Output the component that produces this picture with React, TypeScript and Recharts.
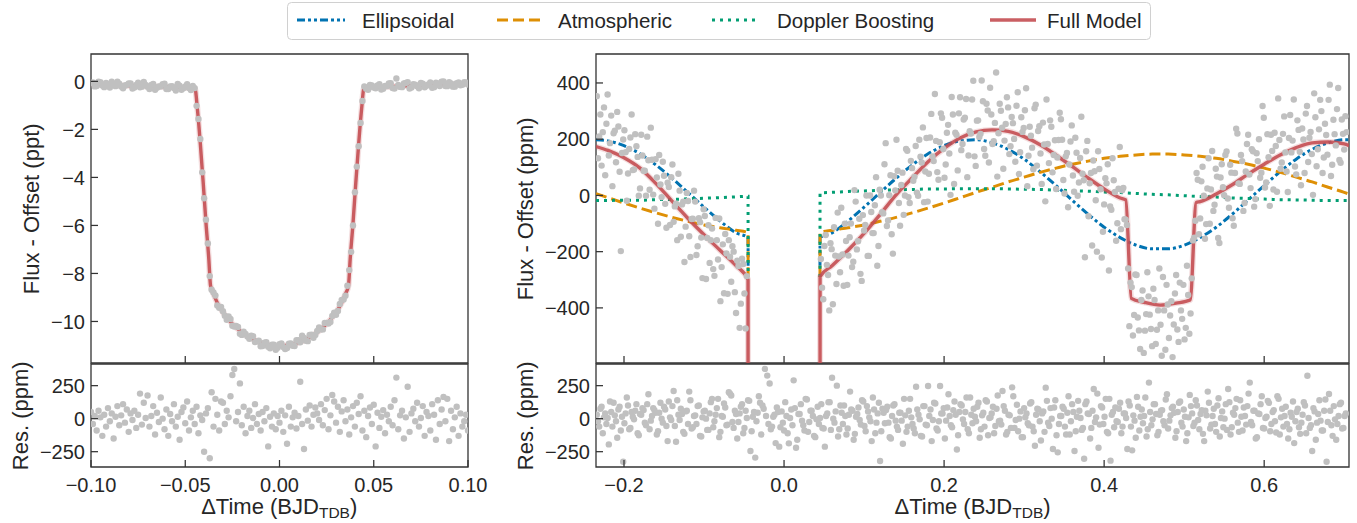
import React from "react";
import { ComposedChart, Line, Scatter, XAxis, YAxis, ReferenceArea } from "recharts";

// ---------- transit (left panels) ----------
const transitTimes = [-0.1, -0.08, -0.06, -0.0449, -0.0435, -0.042, -0.0405, -0.039, -0.0375, -0.0366, -0.035, -0.033, -0.03, -0.025, -0.02, -0.015, -0.01, -0.005, 0, 0.005, 0.01, 0.015, 0.02, 0.025, 0.03, 0.033, 0.035, 0.0366, 0.0375, 0.039, 0.0405, 0.042, 0.0435, 0.0449, 0.06, 0.08, 0.1];
const transitModel = [-0.12, -0.18, -0.23, -0.28, -1.2, -2.6, -4.2, -5.9, -7.4, -8.5, -8.85, -9.22, -9.62, -10.1, -10.45, -10.7, -10.88, -10.98, -11.02, -10.98, -10.88, -10.7, -10.45, -10.1, -9.62, -9.22, -8.85, -8.5, -7.4, -5.9, -4.2, -2.6, -1.2, -0.25, -0.21, -0.15, -0.1];

const transitObs: [number, number][] = [
  [-0.1,-0.07],[-0.098,-0.21],[-0.096,-0.01],[-0.094,-0.17],[-0.092,-0.07],[-0.09,-0.26],[-0.088,-0.13],[-0.086,-0.01],[-0.084,-0.21],[-0.082,-0.17],
  [-0.08,-0.09],[-0.078,-0.3],[-0.076,-0.15],[-0.074,-0.25],[-0.072,-0.02],[-0.07,-0.22],[-0.068,-0.15],[-0.066,-0.35],[-0.064,-0.21],[-0.062,-0.12],
  [-0.06,-0.32],[-0.058,-0.21],[-0.056,-0.28],[-0.054,-0.11],[-0.052,-0.35],[-0.05,-0.21],[-0.048,-0.28],[-0.046,-0.19],[-0.044,-1.02],[-0.042,-2.4],
  [-0.04,-4.87],[-0.038,-6.75],[-0.036,-8.68],[-0.034,-8.92],[-0.032,-9.43],[-0.03,-9.57],[-0.028,-9.93],[-0.026,-9.9],[-0.024,-10.21],[-0.022,-10.23],
  [-0.02,-10.56],[-0.018,-10.52],[-0.016,-10.72],[-0.014,-10.61],[-0.012,-10.83],[-0.01,-11.03],[-0.008,-10.88],[-0.006,-11.05],[-0.004,-10.97],[-0.002,-11.18],
  [0,-10.95],[0.002,-11.06],[0.004,-11.11],[0.006,-10.92],[0.008,-11.02],[0.01,-10.78],[0.012,-10.59],[0.014,-10.8],[0.016,-10.56],[0.018,-10.68],
  [0.02,-10.4],[0.022,-10.33],[0.024,-10.06],[0.026,-10.09],[0.028,-9.77],[0.03,-9.72],[0.032,-9.27],[0.034,-9.09],[0.036,-8.51],[0.038,-7.1],
  [0.04,-4.62],[0.042,-2.7],[0.044,-0.82],[0.046,-0.31],[0.048,-0.15],[0.05,-0.26],[0.052,-0.17],[0.054,-0.34],[0.056,-0.19],[0.058,-0.09],
  [0.06,-0.28],[0.062,0.12],[0.064,-0.23],[0.066,-0.09],[0.068,-0.03],[0.07,-0.26],[0.072,-0.14],[0.074,-0.29],[0.076,-0.1],[0.078,-0.18],
  [0.08,-0.04],[0.082,-0.24],[0.084,-0.09],[0.086,-0.01],[0.088,-0.19],[0.09,-0.03],[0.092,-0.22],[0.094,-0.08],[0.096,-0.16],[0.098,-0.03],[0.1,-0.13],
  [-0.099,-0.05],[-0.097,-0.19],[-0.095,-0.03],[-0.093,-0.24],[-0.091,-0.12],[-0.089,-0.01],[-0.087,-0.2],[-0.085,-0.1],[-0.083,-0.29],[-0.081,-0.15],
  [-0.079,-0.09],[-0.077,-0.26],[-0.075,-0.06],[-0.073,-0.22],[-0.071,-0.15],[-0.069,-0.32],[-0.067,-0.11],[-0.065,-0.27],[-0.063,-0.21],[-0.061,-0.1],
  [-0.059,-0.32],[-0.057,-0.2],[-0.055,-0.38],[-0.053,-0.18],[-0.051,-0.29],[-0.049,-0.12],[-0.047,-0.36],[-0.045,-0.28],[-0.043,-1.57],[-0.041,-3.79],
  [-0.039,-5.76],[-0.037,-8.11],[-0.035,-8.79],[-0.033,-9.33],[-0.031,-9.4],[-0.029,-9.76],[-0.027,-9.79],[-0.025,-10.18],[-0.023,-10.19],[-0.021,-10.51],
  [-0.019,-10.43],[-0.017,-10.63],[-0.015,-10.59],[-0.013,-10.86],[-0.011,-10.8],[-0.009,-11.02],[-0.007,-10.86],[-0.005,-11.12],[-0.003,-10.97],[-0.001,-11.1],
  [0.001,-10.92],[0.003,-11.15],[0.005,-10.93],[0.007,-11.01],[0.009,-10.78],[0.011,-10.87],[0.013,-10.69],[0.015,-10.82],[0.017,-10.55],[0.019,-10.56],
  [0.021,-10.25],[0.023,-10.33],[0.025,-10.06],[0.027,-10.02],[0.029,-9.63],[0.031,-9.56],[0.033,-9.1],[0.035,-8.93],[0.037,-7.86],[0.039,-6.0],
  [0.041,-3.55],[0.043,-1.73],[0.045,-0.21],[0.047,-0.35],[0.049,-0.17],[0.051,-0.29],[0.053,-0.12],[0.055,-0.31],[0.057,-0.2],[0.059,-0.08],
  [0.061,-0.3],[0.063,-0.15],[0.065,-0.24],[0.067,-0.07],[0.069,-0.3],[0.071,-0.12],[0.073,-0.2],[0.075,-0.07],[0.077,-0.25],[0.079,-0.13],
  [0.081,-0.27],[0.083,-0.06],[0.085,-0.19],[0.087,0.0],[0.089,-0.2],[0.091,-0.09],[0.093,-0.22],[0.095,-0.04],[0.097,-0.14],[0.099,-0.05],
];

const transitRes: [number, number][] = [
  [-0.1,50],[-0.099,-40],[-0.098,20],[-0.097,-90],[-0.096,60],[-0.095,10],[-0.094,-130],[-0.093,30],[-0.092,-60],[-0.091,80],[-0.09,-20],[-0.089,40],[-0.088,-150],[-0.087,15],[-0.086,95],[-0.085,-50],[-0.084,25],[-0.083,110],[-0.082,-30],[-0.081,70],
  [-0.08,-100],[-0.079,40],[-0.078,-10],[-0.077,60],[-0.076,-70],[-0.075,30],[-0.074,190],[-0.073,-45],[-0.072,120],[-0.071,5],[-0.07,175],[-0.069,-60],[-0.068,20],[-0.067,95],[-0.066,-120],[-0.065,45],[-0.064,-25],[-0.063,160],[-0.062,0],[-0.061,-80],
  [-0.06,70],[-0.059,-130],[-0.058,35],[-0.057,-20],[-0.056,110],[-0.055,-60],[-0.054,15],[-0.053,-160],[-0.052,50],[-0.051,85],[-0.05,-35],[-0.049,130],[-0.048,-90],[-0.047,10],[-0.046,60],[-0.045,-40],[-0.044,90],[-0.043,-110],[-0.042,25],[-0.041,-10],
  [-0.04,-250],[-0.039,40],[-0.038,80],[-0.037,-300],[-0.036,200],[-0.035,-60],[-0.034,150],[-0.033,30],[-0.032,-90],[-0.031,130],[-0.03,120],[-0.029,-40],[-0.028,60],[-0.027,10],[-0.026,170],[-0.025,331],[-0.024,376],[-0.023,-20],[-0.022,50],[-0.021,267],
  [-0.02,-50],[-0.019,90],[-0.018,-110],[-0.017,20],[-0.016,60],[-0.015,-70],[-0.014,5],[-0.013,110],[-0.012,-40],[-0.011,35],[-0.01,-90],[-0.009,50],[-0.008,-20],[-0.007,80],[-0.006,-210],[-0.005,15],[-0.004,-60],[-0.003,40],[-0.002,-80],[-0.001,20],
  [0,-30],[0.001,60],[0.002,-100],[0.003,25],[0.004,-190],[0.005,90],[0.006,-60],[0.007,10],[0.008,45],[0.009,-75],[0.01,20],[0.011,280],[0.012,-40],[0.013,-230],[0.014,70],[0.015,-15],[0.016,100],[0.017,-60],[0.018,30],[0.019,85],
  [0.02,40],[0.021,-10],[0.022,110],[0.023,-50],[0.024,65],[0.025,150],[0.026,-80],[0.027,25],[0.028,180],[0.029,130],[0.03,-30],[0.031,90],[0.032,-100],[0.033,55],[0.034,140],[0.035,-20],[0.036,70],[0.037,-120],[0.038,10],[0.039,95],
  [0.04,-60],[0.041,120],[0.042,35],[0.043,170],[0.044,-90],[0.045,60],[0.046,-140],[0.047,20],[0.048,85],[0.049,-40],[0.05,105],[0.051,-210],[0.052,45],[0.053,-70],[0.054,15],[0.055,65],[0.056,-110],[0.057,30],[0.058,-20],[0.059,90],
  [0.06,-50],[0.061,140],[0.062,311],[0.063,-80],[0.064,25],[0.065,60],[0.066,-150],[0.067,10],[0.068,242],[0.069,-100],[0.07,40],[0.071,75],[0.072,-20],[0.073,120],[0.074,-60],[0.075,5],[0.076,95],[0.077,-130],[0.078,50],[0.079,20],
  [0.08,-90],[0.081,110],[0.082,30],[0.083,-160],[0.084,140],[0.085,-40],[0.086,70],[0.087,165],[0.088,-20],[0.089,150],[0.09,-170],[0.091,60],[0.092,-80],[0.093,10],[0.094,90],[0.095,-130],[0.096,40],[0.097,-60],[0.098,-20],[0.099,30],[0.1,-90],
];

// ---------- phase curve (right panels) ----------
const compTimesPre = [-0.235, -0.22, -0.2, -0.18, -0.16, -0.14, -0.12, -0.1, -0.08, -0.06, -0.045, -0.0449];
const ellPre = [198, 194, 177, 148, 108, 61, 10, -42, -91, -133, -150, -250];
const atmPre = [6, -8, -27, -45, -62, -78, -92, -105, -115, -124, -132, -290];
const dopPre = [-18, -18, -17, -17, -15, -14, -12, -10, -8, -5, -3, -290];
const fullPre = [174, 160, 134, 97, 42, -20, -82, -140, -195, -250, -300, -2000];

const compTimesPost = [0.0449, 0.045, 0.06, 0.08, 0.1, 0.12, 0.14, 0.16, 0.18, 0.2, 0.22, 0.24, 0.26, 0.28, 0.3, 0.32, 0.34, 0.36, 0.38, 0.4, 0.42, 0.44, 0.46, 0.48, 0.5, 0.52, 0.54, 0.56, 0.58, 0.6, 0.62, 0.64, 0.66, 0.68, 0.7, 0.706];
const ellPost = [-250, -150, -133, -91, -42, 10, 61, 108, 148, 177, 194, 198, 187, 164, 129, 84, 35, -17, -67, -113, -150, -177, -190, -190, -177, -150, -113, -67, -16, 35, 85, 129, 164, 187, 198, 198];
const atmPost = [-290, -132, -124, -115, -105, -92, -78, -62, -45, -27, -8, 11, 29, 48, 65, 82, 97, 111, 122, 132, 139, 144, 147, 147, 144, 139, 132, 122, 111, 97, 82, 65, 48, 29, 11, 5];
const dopPost = [-290, 9, 11, 14, 16, 18, 20, 21, 23, 23, 24, 24, 24, 23, 22, 21, 19, 17, 15, 12, 10, 7, 4, 2, -1, -4, -6, -9, -11, -13, -15, -16, -17, -18, -18, -18];

const fullTimesPost = [0.0449, 0.045, 0.06, 0.08, 0.1, 0.12, 0.14, 0.16, 0.18, 0.2, 0.22, 0.24, 0.26, 0.28, 0.3, 0.32, 0.34, 0.36, 0.38, 0.4, 0.42, 0.427, 0.434, 0.45, 0.47, 0.49, 0.5075, 0.515, 0.52, 0.54, 0.56, 0.58, 0.6, 0.62, 0.64, 0.66, 0.68, 0.7, 0.706];
const fullPost = [-2000, -289, -250, -195, -135, -68, 2, 62, 120, 167, 204, 226, 233, 228, 209, 180, 143, 103, 62, 23, -9, -16, -366, -380, -390, -383, -372, -25, -22, 5, 38, 76, 111, 144, 170, 187, 190, 183, 177];

const phaseObs: [number, number][] = [
  [-0.234,353],[-0.231,210],[-0.228,106],[-0.225,313],[-0.222,255],[-0.219,142],[-0.216,284],[-0.213,221],[-0.21,118],[-0.207,245],[-0.204,-198],[-0.201,199],[-0.198,154],[-0.195,78],[-0.192,206],[-0.189,90],[-0.186,218],[-0.183,137],[-0.18,25],[-0.177,142],
  [-0.174,88],[-0.171,209],[-0.168,20],[-0.165,127],[-0.162,-47],[-0.159,64],[-0.156,144],[-0.153,-6],[-0.15,70],[-0.147,-115],[-0.144,30],[-0.141,65],[-0.138,-94],[-0.135,-29],[-0.132,77],[-0.129,-147],[-0.126,-22],[-0.123,-111],[-0.12,-20],[-0.117,-219],
  [-0.114,-83],[-0.111,-22],[-0.108,-181],[-0.105,-95],[-0.102,-294],[-0.099,-73],[-0.096,-151],[-0.093,-240],[-0.09,-118],[-0.087,-286],[-0.084,-159],[-0.081,-82],[-0.078,-255],[-0.075,-348],[-0.072,-206],[-0.069,-159],[-0.066,-307],[-0.063,-200],[-0.06,-418],[-0.057,-251],
  [-0.054,-385],[-0.051,-244],[-0.048,-473],
  [0.046,-226],[0.049,-369],[0.052,-141],[0.055,-283],[0.058,-170],[0.061,-387],[0.064,-214],[0.067,-61],[0.07,-273],[0.073,-210],[0.076,-101],[0.079,-318],[0.082,-149],[0.085,-255],[0.088,19],[0.091,-192],[0.094,-83],[0.097,-304],[0.1,-125],[0.103,0],
  [0.106,-215],[0.109,-59],[0.112,-134],[0.115,65],[0.118,-180],[0.121,0],[0.124,-64],[0.127,186],[0.13,-89],[0.133,72],[0.136,-207],[0.139,18],[0.142,88],[0.145,-108],[0.148,81],[0.151,0],[0.154,159],[0.157,-27],[0.16,97],[0.163,66],
  [0.166,10],[0.169,198],[0.172,117],[0.175,-24],[0.178,204],[0.181,77],[0.184,290],[0.187,122],[0.19,194],[0.193,56],[0.196,292],[0.199,165],[0.202,110],[0.205,251],[0.208,2],[0.211,288],[0.214,223],[0.217,89],[0.22,349],[0.223,183],
  [0.226,276],[0.229,65],[0.232,228],[0.235,341],[0.238,139],[0.241,266],[0.244,208],[0.247,409],[0.25,165],[0.253,326],[0.256,117],[0.259,288],[0.262,193],[0.265,437],[0.268,221],[0.271,301],[0.274,95],[0.277,254],[0.28,313],[0.283,175],
  [0.286,257],[0.289,120],[0.292,367],[0.295,154],[0.298,226],[0.301,303],[0.304,33],[0.307,244],[0.31,170],[0.313,310],[0.316,106],[0.319,246],[0.322,41],[0.325,181],[0.328,341],[0.331,115],[0.334,244],[0.337,144],[0.34,23],[0.343,197],
  [0.346,271],[0.349,55],[0.352,139],[0.355,-42],[0.358,192],[0.361,71],[0.364,205],[0.367,-1],[0.37,133],[0.373,77],[0.376,-220],[0.379,194],[0.382,43],[0.385,-178],[0.388,86],[0.391,-200],[0.394,94],[0.397,-221],[0.4,-32],[0.403,43],
  [0.406,-267],[0.409,-51],[0.412,54],[0.415,-161],[0.418,24],[0.421,-120],[0.424,27],[0.427,-86],[0.43,-260],[0.433,-310],[0.436,-498],[0.439,-281],[0.442,-434],[0.445,-546],[0.448,-338],[0.451,-481],[0.454,-273],[0.457,-424],[0.46,-536],[0.463,-372],
  [0.466,-478],[0.469,-260],[0.472,-570],[0.475,-409],[0.478,-318],[0.481,-507],[0.484,-376],[0.487,-459],[0.49,-283],[0.493,-521],[0.496,-409],[0.499,-318],[0.502,-471],[0.505,-354],[0.508,-420],[0.511,-160],[0.514,-90],[0.517,56],[0.52,-82],[0.523,102],
  [0.526,-154],[0.529,25],[0.532,-101],[0.535,158],[0.538,-33],[0.541,67],[0.544,-169],[0.547,111],[0.55,1],[0.553,156],[0.556,-44],[0.559,81],[0.562,-108],[0.565,237],[0.568,43],[0.571,144],[0.574,-55],[0.577,85],[0.58,216],[0.583,26],
  [0.586,157],[0.589,-13],[0.592,122],[0.595,63],[0.598,318],[0.601,28],[0.604,218],[0.607,-37],[0.61,158],[0.613,223],[0.616,13],[0.619,197],[0.622,117],[0.625,281],[0.628,85],[0.631,204],[0.634,153],[0.637,341],[0.64,75],[0.643,233],
  [0.646,36],[0.649,199],[0.652,291],[0.655,119],[0.658,226],[0.661,2],[0.664,278],[0.667,164],[0.67,340],[0.673,80],[0.676,255],[0.679,145],[0.682,394],[0.685,109],[0.688,218],[0.691,307],[0.694,126],[0.697,270],[0.7,163],[0.703,225],
];

const phaseObs2: [number, number][] = [
  [-0.2325,132],[-0.2295,288],[-0.2265,225],[-0.2235,72],[-0.2205,359],[-0.2175,186],[-0.2145,33],[-0.2115,230],[-0.2085,297],[-0.2055,84],[-0.2025,151],[-0.1995,232],[-0.1965,-19],[-0.1935,165],[-0.1905,288],[-0.1875,92],[-0.1845,175],[-0.1815,-1],[-0.1785,216],[-0.1755,88],
  [-0.1725,-1],[-0.1695,125],[-0.1665,241],[-0.1635,3],[-0.1605,129],[-0.1575,-101],[-0.1545,39],[-0.1515,120],[-0.1485,-30],[-0.1455,45],[-0.1425,-105],[-0.1395,110],[-0.1365,-39],[-0.1335,-159],[-0.1305,17],[-0.1275,-32],[-0.1245,-237],[-0.1215,9],[-0.1185,-145],[-0.1155,-84],
  [-0.1125,17],[-0.1095,-212],[-0.1065,-81],[-0.1035,-150],[-0.1005,-49],[-0.0975,-297],[-0.0945,-106],[-0.0915,-159],[-0.0885,-262],[-0.0855,-80],[-0.0825,-228],[-0.0795,-376],[-0.0765,-174],[-0.0735,-137],[-0.0705,-350],[-0.0675,-218],[-0.0645,-181],[-0.0615,-344],[-0.0585,-232],[-0.0555,-471],
  [-0.0525,-225],[-0.0495,-349],[-0.0465,-287],
  [0.0475,-328],[0.0505,-180],[0.0535,-247],[0.0565,-409],[0.0595,-191],[0.0625,-113],[0.0655,-315],[0.0685,-217],[0.0715,-44],[0.0745,-321],[0.0775,-162],[0.0805,-214],[0.0835,-100],[0.0865,-236],[0.0895,-22],[0.0925,-163],[0.0955,-279],[0.0985,-70],[0.1015,-105],[0.1045,-215],
  [0.1075,0],[0.1105,-134],[0.1135,-35],[0.1165,-250],[0.1195,20],[0.1225,-60],[0.1255,111],[0.1285,-109],[0.1315,1],[0.1345,-138],[0.1375,68],[0.1405,198],[0.1435,-27],[0.1465,37],[0.1495,-69],[0.1525,165],[0.1555,-6],[0.1585,123],[0.1615,52],[0.1645,176],
  [0.1675,-1],[0.1705,138],[0.1735,242],[0.1765,85],[0.1795,-22],[0.1825,206],[0.1855,139],[0.1885,361],[0.1915,83],[0.1945,189],[0.1975,276],[0.2005,63],[0.2035,223],[0.2065,149],[0.2095,350],[0.2125,41],[0.2155,216],[0.2185,292],[0.2215,161],[0.2245,270],
  [0.2275,343],[0.2305,142],[0.2335,220],[0.2365,408],[0.2395,105],[0.2425,267],[0.2455,219],[0.2485,335],[0.2515,141],[0.2545,302],[0.2575,383],[0.2605,183],[0.2635,258],[0.2665,67],[0.2695,326],[0.2725,241],[0.2755,195],[0.2785,349],[0.2815,147],[0.2845,279],
  [0.2875,201],[0.2905,319],[0.2935,76],[0.2965,278],[0.2995,240],[0.3025,381],[0.3055,141],[0.3085,212],[0.3115,93],[0.3145,323],[0.3175,229],[0.3205,149],[0.3235,259],[0.3265,-21],[0.3295,183],[0.3325,267],[0.3355,82],[0.3385,196],[0.3415,135],[0.3445,294],
  [0.3475,198],[0.3505,7],[0.3535,151],[0.3565,110],[0.3595,249],[0.3625,13],[0.3655,152],[0.3685,46],[0.3715,280],[0.3745,54],[0.3775,157],[0.3805,-74],[0.3835,80],[0.3865,124],[0.3895,-17],[0.3925,157],[0.3955,22],[0.3985,-129],[0.4015,61],[0.4045,111],
  [0.4075,-39],[0.4105,132],[0.4135,12],[0.4165,-99],[0.4195,172],[0.4225,18],[0.4255,-85],[0.4285,-105],[0.4315,-465],[0.4345,-326],[0.4375,-425],[0.4405,-283],[0.4435,-480],[0.4465,-372],[0.4495,-560],[0.4525,-422],[0.4555,-359],[0.4585,-475],[0.4615,-332],[0.4645,-528],
  [0.4675,-409],[0.4705,-460],[0.4735,-290],[0.4765,-549],[0.4795,-388],[0.4825,-427],[0.4855,-575],[0.4885,-349],[0.4915,-477],[0.4945,-310],[0.4975,-439],[0.5005,-512],[0.5035,-250],[0.5065,-492],[0.5095,-295],[0.5125,-150],[0.5155,80],[0.5185,-138],[0.5215,50],[0.5245,-1],
  [0.5275,-102],[0.5305,132],[0.5335,21],[0.5365,-55],[0.5395,95],[0.5425,-151],[0.5455,64],[0.5485,29],[0.5515,144],[0.5545,-11],[0.5575,109],[0.5605,-81],[0.5635,80],[0.5665,220],[0.5695,41],[0.5725,122],[0.5755,-27],[0.5785,183],[0.5815,74],[0.5845,164],
  [0.5875,-40],[0.5905,150],[0.5935,200],[0.5965,81],[0.5995,276],[0.6025,46],[0.6055,136],[0.6085,216],[0.6115,21],[0.6145,176],[0.6175,345],[0.6205,95],[0.6235,219],[0.6265,153],[0.6295,12],[0.6325,286],[0.6355,195],[0.6385,103],[0.6415,267],[0.6445,155],
  [0.6475,238],[0.6505,80],[0.6535,318],[0.6565,205],[0.6595,147],[0.6625,363],[0.6655,104],[0.6685,235],[0.6715,300],[0.6745,135],[0.6775,215],[0.6805,340],[0.6835,69],[0.6865,269],[0.6895,178],[0.6925,382],[0.6955,116],[0.6985,219],[0.7015,282],
];

const phaseRes: [number, number][] = [
  [-0.234,30],[-0.231,-60],[-0.228,90],[-0.225,10],[-0.222,-40],[-0.219,-195],[-0.216,50],[-0.213,120],[-0.21,-20],[-0.207,70],[-0.204,-90],[-0.201,-326],[-0.198,40],[-0.195,100],[-0.192,-70],[-0.189,15],[-0.186,60],[-0.183,-110],[-0.18,35],[-0.177,80],
  [-0.174,-30],[-0.171,110],[-0.168,-80],[-0.165,20],[-0.162,65],[-0.159,-120],[-0.156,45],[-0.153,0],[-0.15,90],[-0.147,-55],[-0.144,130],[-0.141,-10],[-0.138,210],[-0.135,-175],[-0.132,30],[-0.129,75],[-0.126,-100],[-0.123,55],[-0.12,-40],[-0.117,140],
  [-0.114,-65],[-0.111,25],[-0.108,95],[-0.105,-130],[-0.102,10],[-0.099,60],[-0.096,-85],[-0.093,40],[-0.09,150],[-0.087,-20],[-0.084,80],[-0.081,-140],[-0.078,20],[-0.075,115],[-0.072,-50],[-0.069,200],[-0.066,175],[-0.063,-70],[-0.06,35],[-0.057,-25],
  [-0.054,90],[-0.051,-110],[-0.048,60],[-0.045,140],[-0.042,-245],[-0.039,15],[-0.036,-295],[-0.033,45],[-0.03,120],[-0.027,100],[-0.024,377],[-0.021,326],[-0.018,266],[-0.015,-60],[-0.012,30],[-0.009,85],[-0.006,-212],[-0.003,55],[0,-90],[0.003,20],
  [0.006,-187],[0.009,70],[0.012,290],[0.015,-220],[0.018,35],[0.021,110],[0.024,-50],[0.027,150],[0.03,-100],[0.033,60],[0.036,20],[0.039,-140],[0.042,90],[0.045,5],[0.048,-70],[0.051,-212],[0.054,40],[0.057,125],[0.06,310],[0.063,-30],
  [0.066,250],[0.069,-80],[0.072,45],[0.075,100],[0.078,-120],[0.081,30],[0.084,70],[0.087,-160],[0.09,15],[0.093,85],[0.096,-45],[0.099,130],[0.102,-95],[0.105,55],[0.108,-20],[0.111,160],[0.114,-110],[0.117,40],[0.12,-320],[0.123,75],
  [0.126,-35],[0.129,90],[0.132,-140],[0.135,20],[0.138,110],[0.141,-60],[0.144,45],[0.147,-15],[0.15,150],[0.153,-100],[0.156,60],[0.159,10],[0.162,-75],[0.165,242],[0.168,30],[0.171,-130],[0.174,95],[0.177,-45],[0.18,247],[0.183,70],
  [0.186,-10],[0.189,115],[0.192,-90],[0.195,247],[0.198,40],[0.201,-150],[0.204,85],[0.207,20],[0.21,-65],[0.213,130],[0.216,-233],[0.219,50],[0.222,100],[0.225,-40],[0.228,160],[0.231,-110],[0.234,30],[0.237,75],[0.24,-20],[0.243,120],
  [0.246,-80],[0.249,45],[0.252,140],[0.255,-125],[0.258,10],[0.261,90],[0.264,-55],[0.267,175],[0.27,-15],[0.273,210],[0.276,60],[0.279,-100],[0.282,25],[0.285,237],[0.288,-70],[0.291,105],[0.294,0],[0.297,-140],[0.3,80],[0.303,40],
  [0.306,-50],[0.309,125],[0.312,-95],[0.315,30],[0.318,70],[0.321,-165],[0.324,55],[0.327,235],[0.33,-30],[0.333,80],[0.336,-230],[0.339,140],[0.342,-255],[0.345,20],[0.348,90],[0.351,-60],[0.354,45],[0.357,-120],[0.36,110],[0.363,-245],
  [0.366,15],[0.369,60],[0.372,-85],[0.375,-303],[0.378,130],[0.381,35],[0.384,-70],[0.387,225],[0.39,10],[0.393,-220],[0.396,95],[0.399,-40],[0.402,150],[0.405,-110],[0.408,-318],[0.411,50],[0.414,85],[0.417,-25],[0.42,120],[0.423,-60],
  [0.426,40],[0.429,-230],[0.432,100],[0.435,-240],[0.438,-15],[0.441,165],[0.444,-90],[0.447,70],[0.45,20],[0.453,-135],[0.456,273],[0.459,-50],[0.462,110],[0.465,35],[0.468,-100],[0.471,60],[0.474,-20],[0.477,145],[0.48,-75],[0.483,25],
  [0.486,90],[0.489,-145],[0.492,50],[0.495,130],[0.498,-60],[0.501,15],[0.504,-110],[0.507,180],[0.51,40],[0.513,-30],[0.516,100],[0.519,-80],[0.522,65],[0.525,-170],[0.528,25],[0.531,120],[0.534,-45],[0.537,75],[0.54,-100],[0.543,155],
  [0.546,5],[0.549,-65],[0.552,110],[0.555,225],[0.558,-120],[0.561,45],[0.564,80],[0.567,-30],[0.57,140],[0.573,-90],[0.576,20],[0.579,95],[0.582,273],[0.585,-50],[0.588,60],[0.591,-140],[0.594,35],[0.597,170],[0.6,-75],[0.603,15],
  [0.606,120],[0.609,-40],[0.612,65],[0.615,-105],[0.618,150],[0.621,10],[0.624,-60],[0.627,90],[0.63,-150],[0.633,45],[0.636,130],[0.639,-20],[0.642,75],[0.645,-115],[0.648,30],[0.651,100],[0.654,325],[0.657,-70],[0.66,-245],[0.663,55],
  [0.666,-30],[0.669,140],[0.672,-90],[0.675,60],[0.678,-326],[0.681,187],[0.684,-50],[0.687,95],[0.69,-160],[0.693,20],[0.696,120],[0.699,-70],[0.702,40],
];

const phaseRes2: [number, number][] = [
  [-0.2325,-20],[-0.2295,75],[-0.2265,-110],[-0.2235,40],[-0.2205,5],[-0.2175,130],[-0.2145,-60],[-0.2115,25],[-0.2085,-145],[-0.2055,90],[-0.2025,15],[-0.1995,-35],[-0.1965,160],[-0.1935,-80],[-0.1905,50],[-0.1875,-5],[-0.1845,110],[-0.1815,-125],[-0.1785,30],[-0.1755,65],[-0.1725,-50],[-0.1695,185],[-0.1665,-15],[-0.1635,80],
  [-0.1605,45],[-0.1575,-95],[-0.1545,120],[-0.1515,-30],[-0.1485,70],[-0.1455,-170],[-0.1425,10],[-0.1395,95],[-0.1365,-55],[-0.1335,140],[-0.1305,-10],[-0.1275,35],[-0.1245,-115],[-0.1215,60],[-0.1185,205],[-0.1155,-75],[-0.1125,20],[-0.1095,-40],[-0.1065,100],[-0.1035,-135],[-0.1005,55],[-0.0975,0],[-0.0945,-85],[-0.0915,125],
  [-0.0885,-65],[-0.0855,30],[-0.0825,150],[-0.0795,-100],[-0.0765,15],[-0.0735,85],[-0.0705,-45],[-0.0675,190],[-0.0645,-25],[-0.0615,60],[-0.0585,-150],[-0.0555,40],[-0.0525,110],[-0.0495,-70],[-0.0465,5],[-0.0435,135],[-0.0405,-95],[-0.0375,50],[-0.0345,-20],[-0.0315,170],[-0.0285,-120],[-0.0255,75],[-0.0225,20],[-0.0195,-40],
  [-0.0165,-80],[-0.0135,15],[-0.0105,-185],[-0.0075,50],[-0.0045,-65],[-0.0015,-30],[0.0015,125],[0.0045,-110],[0.0075,5],[0.0105,-50],[0.0135,80],[0.0165,-160],[0.0195,35],[0.0225,-15],[0.0255,-90],[0.0285,145],[0.0315,-25],[0.0345,60],[0.0375,-130],[0.0405,-5],[0.0435,-40],[0.0465,110],[0.0495,-75],[0.0525,20],
  [0.0555,125],[0.0585,-85],[0.0615,0],[0.0645,55],[0.0675,-135],[0.0705,100],[0.0735,-40],[0.0765,20],[0.0795,-75],[0.0825,205],[0.0855,60],[0.0885,-115],[0.0915,35],[0.0945,-10],[0.0975,140],[0.1005,-55],[0.1035,95],[0.1065,10],[0.1095,-170],[0.1125,70],[0.1155,-30],[0.1185,120],[0.1215,-95],[0.1245,45],
  [0.1275,65],[0.1305,-30],[0.1335,-150],[0.1365,100],[0.1395,-15],[0.1425,-85],[0.1455,45],[0.1485,-190],[0.1515,25],[0.1545,-60],[0.1575,150],[0.1605,-40],[0.1635,-110],[0.1665,70],[0.1695,-5],[0.1725,-135],[0.1755,95],[0.1785,-50],[0.1815,20],[0.1845,-170],[0.1875,120],[0.1905,-75],[0.1935,-20],[0.1965,40],
  [0.1995,80],[0.2025,-15],[0.2055,185],[0.2085,-50],[0.2115,65],[0.2145,30],[0.2175,-125],[0.2205,110],[0.2235,-5],[0.2265,50],[0.2295,-80],[0.2325,160],[0.2355,-35],[0.2385,15],[0.2415,90],[0.2445,-145],[0.2475,25],[0.2505,-60],[0.2535,130],[0.2565,5],[0.2595,40],[0.2625,-110],[0.2655,75],[0.2685,-20],
  [0.2715,-45],[0.2745,95],[0.2775,-120],[0.2805,30],[0.2835,-70],[0.2865,170],[0.2895,-10],[0.2925,-95],[0.2955,55],[0.2985,-140],[0.3015,10],[0.3045,-35],[0.3075,115],[0.3105,-60],[0.3135,-205],[0.3165,75],[0.3195,-20],[0.3225,40],[0.3255,-100],[0.3285,135],[0.3315,-55],[0.3345,0],[0.3375,85],[0.3405,-125],
  [0.3435,-40],[0.3465,20],[0.3495,75],[0.3525,-120],[0.3555,170],[0.3585,-20],[0.3615,50],[0.3645,-95],[0.3675,135],[0.3705,5],[0.3735,-70],[0.3765,110],[0.3795,40],[0.3825,-150],[0.3855,60],[0.3885,-25],[0.3915,190],[0.3945,-45],[0.3975,85],[0.4005,15],[0.4035,-100],[0.4065,150],[0.4095,30],[0.4125,-65],
  [0.4155,-20],[0.4185,75],[0.4215,-110],[0.4245,40],[0.4275,5],[0.4305,130],[0.4335,-60],[0.4365,25],[0.4395,-145],[0.4425,90],[0.4455,15],[0.4485,-35],[0.4515,160],[0.4545,-80],[0.4575,50],[0.4605,-5],[0.4635,110],[0.4665,-125],[0.4695,30],[0.4725,65],[0.4755,-50],[0.4785,185],[0.4815,-15],[0.4845,80],
  [0.4875,45],[0.4905,-95],[0.4935,120],[0.4965,-30],[0.4995,70],[0.5025,-170],[0.5055,10],[0.5085,95],[0.5115,-55],[0.5145,140],[0.5175,-10],[0.5205,35],[0.5235,-115],[0.5265,60],[0.5295,205],[0.5325,-75],[0.5355,20],[0.5385,-40],[0.5415,100],[0.5445,-135],[0.5475,55],[0.5505,0],[0.5535,-85],[0.5565,125],
  [0.5595,-65],[0.5625,30],[0.5655,150],[0.5685,-100],[0.5715,15],[0.5745,85],[0.5775,-45],[0.5805,190],[0.5835,-25],[0.5865,60],[0.5895,-150],[0.5925,40],[0.5955,110],[0.5985,-70],[0.6015,5],[0.6045,135],[0.6075,-95],[0.6105,50],[0.6135,-20],[0.6165,170],[0.6195,-120],[0.6225,75],[0.6255,20],[0.6285,-40],
  [0.6315,-80],[0.6345,15],[0.6375,-185],[0.6405,50],[0.6435,-65],[0.6465,-30],[0.6495,125],[0.6525,-110],[0.6555,5],[0.6585,-50],[0.6615,80],[0.6645,-160],[0.6675,35],[0.6705,-15],[0.6735,-90],[0.6765,145],[0.6795,-25],[0.6825,60],[0.6855,-130],[0.6885,-5],[0.6915,-40],[0.6945,110],[0.6975,-75],[0.7005,20],
];

// ---------- styles ----------
const FONT = '"Liberation Sans", Arial, Helvetica, sans-serif';
const INK = "#262626";
const FRAME = "#333333";
const DOT = "#c0c0c0";
const BLUE = "#0173b2";
const ORANGE = "#de8f05";
const GREEN = "#029e73";
const RED = "#c44e52";

const ML = 70;
const MT = 4;
const MB = 40;

const zip = (xs: number[], ys: number[]) => xs.map((x, i) => ({ x, y: ys[i] }));
const pts = (pairs: [number, number][]) => pairs.map(([x, y]) => ({ x, y }));
const minus = (s: string) => s.replace("-", "\u2212");

const dotShape = (props: any) => <circle cx={props.cx} cy={props.cy} r={3.2} fill={DOT} />;

type PanelProps = {
  left: number;
  top: number;
  w: number;
  h: number;
  mr: number;
  xDomain: [number, number];
  yDomain: [number, number];
  xTicks: number[];
  yTicks: number[];
  xFmt: (v: number) => string;
  xLabels: boolean;
  children?: React.ReactNode;
};

function Panel(p: PanelProps) {
  const base = MT + p.h;
  const xTick = (t: any) => (
    <g>
      <line x1={t.x} x2={t.x} y1={base} y2={base - 7} stroke={FRAME} strokeWidth={1.25} />
      {p.xLabels && (
        <text x={t.x} y={base + 25} textAnchor="middle" fontSize={20} fill={INK} fontFamily={FONT}>
          {minus(p.xFmt(t.payload.value))}
        </text>
      )}
    </g>
  );
  const yTick = (t: any) => (
    <g>
      <line x1={ML} x2={ML + 7} y1={t.y} y2={t.y} stroke={FRAME} strokeWidth={1.25} />
      <text x={ML - 6} y={t.y} dy="0.36em" textAnchor="end" fontSize={20} fill={INK} fontFamily={FONT}>
        {minus(String(t.payload.value))}
      </text>
    </g>
  );
  return (
    <div style={{ position: "absolute", left: p.left - ML, top: p.top - MT }}>
      <ComposedChart width={ML + p.w + p.mr} height={MT + p.h + MB} margin={{ top: MT, right: p.mr, bottom: 0, left: 0 }}>
        <XAxis type="number" dataKey="x" domain={p.xDomain} ticks={p.xTicks} interval={0} allowDataOverflow axisLine={false} tickLine={false} tick={xTick} height={MB} />
        <YAxis type="number" dataKey="y" domain={p.yDomain} ticks={p.yTicks} interval={0} allowDataOverflow axisLine={false} tickLine={false} tick={yTick} width={ML} />
        {p.children}
        <ReferenceArea x1={p.xDomain[0]} x2={p.xDomain[1]} y1={p.yDomain[0]} y2={p.yDomain[1]} fill="none" stroke={FRAME} strokeWidth={1.3} ifOverflow="visible" />
      </ComposedChart>
    </div>
  );
}

export default function App() {
  const transitLine = zip(transitTimes, transitModel);
  const ellA = zip(compTimesPre, ellPre);
  const atmA = zip(compTimesPre, atmPre);
  const dopA = zip(compTimesPre, dopPre);
  const fullA = zip(compTimesPre, fullPre);
  const ellB = zip(compTimesPost, ellPost);
  const atmB = zip(compTimesPost, atmPost);
  const dopB = zip(compTimesPost, dopPost);
  const fullB = zip(fullTimesPost, fullPost);

  const comp = (data: { x: number; y: number }[], color: string, dash: string, key: string) => (
    <Line key={key} data={data} dataKey="y" type="monotone" stroke={color} strokeWidth={3} strokeDasharray={dash} dot={false} activeDot={false} isAnimationActive={false} />
  );
  const full = (data: { x: number; y: number }[], key: string) => [
    <Line key={key + "h"} data={data} dataKey="y" type="monotone" stroke={RED} strokeWidth={6} strokeOpacity={0.18} dot={false} activeDot={false} isAnimationActive={false} />,
    <Line key={key} data={data} dataKey="y" type="monotone" stroke={RED} strokeWidth={3.4} strokeOpacity={0.9} dot={false} activeDot={false} isAnimationActive={false} />,
  ];

  return (
    <div style={{ position: "absolute", left: 0, top: 0, width: 1357, height: 523, overflow: "hidden", background: "#fff", fontFamily: FONT }}>
      <Panel left={90.7} top={54.3} w={377} h={309} mr={30} xDomain={[-0.1, 0.1]} yDomain={[-11.73, 1.14]} xTicks={[-0.05, 0, 0.05]} yTicks={[0, -2, -4, -6, -8, -10]} xFmt={(v) => v.toFixed(2)} xLabels={false}>
        <Scatter data={pts(transitObs)} shape={dotShape} isAnimationActive={false} />
        {full(transitLine, "tm")}
      </Panel>
      <Panel left={90.7} top={364.3} w={377} h={103} mr={30} xDomain={[-0.1, 0.1]} yDomain={[-366, 414]} xTicks={[-0.1, -0.05, 0, 0.05, 0.1]} yTicks={[250, 0, -250]} xFmt={(v) => v.toFixed(2)} xLabels={true}>
        <Scatter data={pts(transitRes)} shape={dotShape} isAnimationActive={false} />
      </Panel>
      <Panel left={596} top={54.3} w={753} h={309} mr={6} xDomain={[-0.235, 0.706]} yDomain={[-596, 503]} xTicks={[-0.2, 0, 0.2, 0.4, 0.6]} yTicks={[400, 200, 0, -200, -400]} xFmt={(v) => v.toFixed(1)} xLabels={false}>
        <Scatter data={pts(phaseObs)} shape={dotShape} isAnimationActive={false} />
        <Scatter data={pts(phaseObs2)} shape={dotShape} isAnimationActive={false} />
        {comp(ellA, BLUE, "8 3 3 3 3 3", "e1")}
        {comp(ellB, BLUE, "8 3 3 3 3 3", "e2")}
        {comp(atmA, ORANGE, "11 5", "a1")}
        {comp(atmB, ORANGE, "11 5", "a2")}
        {comp(dopA, GREEN, "3 5", "d1")}
        {comp(dopB, GREEN, "3 5", "d2")}
        {full(fullA, "f1")}
        {full(fullB, "f2")}
      </Panel>
      <Panel left={596} top={364.3} w={753} h={103} mr={6} xDomain={[-0.235, 0.706]} yDomain={[-366, 414]} xTicks={[-0.2, 0, 0.2, 0.4, 0.6]} yTicks={[250, 0, -250]} xFmt={(v) => v.toFixed(1)} xLabels={true}>
        <Scatter data={pts(phaseRes)} shape={dotShape} isAnimationActive={false} />
        <Scatter data={pts(phaseRes2)} shape={dotShape} isAnimationActive={false} />
      </Panel>

      <svg width={1357} height={523} style={{ position: "absolute", left: 0, top: 0, pointerEvents: "none" }} fontFamily={FONT} fill={INK}>
        <text x={31.7} y={208.8} transform="rotate(-90 31.7 208.8)" textAnchor="middle" dominantBaseline="central" fontSize={22}>Flux - Offset (ppt)</text>
        <text x={21} y={415.8} transform="rotate(-90 21 415.8)" textAnchor="middle" dominantBaseline="central" fontSize={22}>Res. (ppm)</text>
        <text x={526} y={208.8} transform="rotate(-90 526 208.8)" textAnchor="middle" dominantBaseline="central" fontSize={22}>Flux - Offset (ppm)</text>
        <text x={526} y={415.8} transform="rotate(-90 526 415.8)" textAnchor="middle" dominantBaseline="central" fontSize={22}>Res. (ppm)</text>
        <text x={279.2} y={514.3} textAnchor="middle" fontSize={22}>
          ΔTime (BJD<tspan fontSize={15.5} dy={4}>TDB</tspan><tspan dy={-4}>)</tspan>
        </text>
        <text x={972.5} y={514.3} textAnchor="middle" fontSize={22}>
          ΔTime (BJD<tspan fontSize={15.5} dy={4}>TDB</tspan><tspan dy={-4}>)</tspan>
        </text>

        <rect x={287.5} y={2.5} width={863} height={37} rx={4} fill="#fff" stroke="#d0d0d0" strokeWidth={1} />
        <line x1={297} x2={345} y1={20} y2={20} stroke={BLUE} strokeWidth={3} strokeDasharray="8 3 3 3 3 3" />
        <text x={362} y={27.5} fontSize={20.5}>Ellipsoidal</text>
        <line x1={497} x2={545} y1={20} y2={20} stroke={ORANGE} strokeWidth={3} strokeDasharray="11 5" />
        <text x={558} y={27.5} fontSize={20.5}>Atmospheric</text>
        <line x1={712} x2={760} y1={20} y2={20} stroke={GREEN} strokeWidth={3} strokeDasharray="3 5" />
        <text x={777} y={27.5} fontSize={20.5}>Doppler Boosting</text>
        <line x1={990} x2={1036} y1={20} y2={20} stroke={RED} strokeWidth={3.4} strokeOpacity={0.9} />
        <text x={1047} y={27.5} fontSize={20.5}>Full Model</text>
      </svg>
    </div>
  );
}
